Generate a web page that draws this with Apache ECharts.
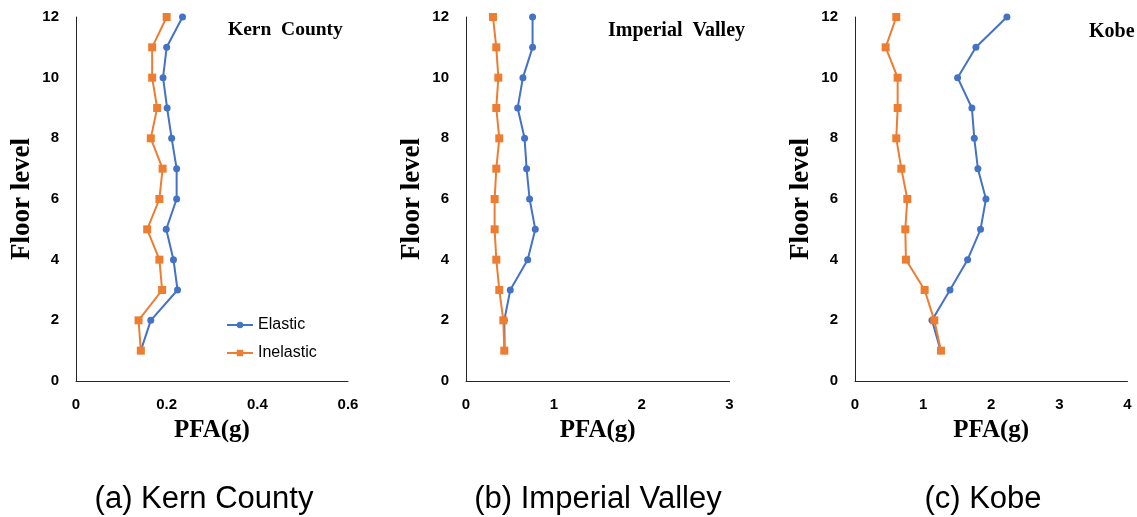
<!DOCTYPE html>
<html>
<head>
<meta charset="utf-8">
<script src="https://cdn.jsdelivr.net/npm/echarts@6/dist/echarts.min.js"></script>
<style>
  html, body { margin: 0; padding: 0; background: #fff; }
  #chart { width: 1137px; height: 517px; }
</style>
</head>
<body>
<div id="chart"></div>
<script>
// floor levels (same for all three records)
const floors = [1, 2, 3, 4, 5, 6, 7, 8, 9, 10, 11, 12];

// PFA(g) per floor
const kernElastic = [0.143, 0.165, 0.224, 0.215, 0.199, 0.222, 0.222, 0.211, 0.201, 0.192, 0.200, 0.235];
const kernInelastic = [0.143, 0.138, 0.190, 0.184, 0.157, 0.184, 0.191, 0.165, 0.179, 0.168, 0.168, 0.200];

const imperialElastic = [0.44, 0.436, 0.504, 0.702, 0.789, 0.724, 0.690, 0.667, 0.588, 0.648, 0.758, 0.758];
const imperialInelastic = [0.436, 0.425, 0.379, 0.345, 0.326, 0.326, 0.345, 0.379, 0.345, 0.368, 0.345, 0.307];

const kobeElastic = [1.257, 1.130, 1.394, 1.653, 1.843, 1.922, 1.804, 1.751, 1.716, 1.506, 1.775, 2.23];
const kobeInelastic = [1.262, 1.164, 1.022, 0.748, 0.738, 0.768, 0.680, 0.606, 0.626, 0.626, 0.450, 0.606];

const recordNames = ["Kern  County", "Imperial  Valley", "Kobe"];
const captions = ["(a) Kern County", "(b) Imperial Valley", "(c) Kobe"];
const xMax = [0.6, 3, 4];
const xStep = [0.2, 1, 1];

const blue = "#4472C4";
const orange = "#ED7D31";
const axisColor = "#262626";
const serif = "'Liberation Serif', 'Times New Roman', serif";
const sans = "'Liberation Sans', Arial, sans-serif";

const grids = [
  { left: 76, top: 17, width: 272, height: 364 },
  { left: 466, top: 17, width: 263.5, height: 364 },
  { left: 855, top: 17, width: 272.5, height: 364 },
];

const pair = (vals) => vals.map((v, i) => [v, floors[i]]);

function xAxisFor(i) {
  return {
    gridIndex: i,
    type: "value",
    min: 0,
    max: xMax[i],
    interval: xStep[i],
    name: "PFA(g)",
    nameLocation: "middle",
    nameGap: 37,
    nameTextStyle: { fontFamily: serif, fontWeight: "bold", fontSize: 25, color: "#000" },
    axisLine: { show: true, onZero: false, lineStyle: { color: axisColor, width: 1 } },
    axisTick: { show: false },
    splitLine: { show: false },
    axisLabel: { margin: 16, fontFamily: sans, fontWeight: "bold", fontSize: 15, color: "#000" },
  };
}

function yAxisFor(i) {
  return {
    gridIndex: i,
    type: "value",
    min: 0,
    max: 12,
    interval: 2,
    name: "Floor level",
    nameLocation: "middle",
    nameRotate: 90,
    nameGap: 40,
    nameTextStyle: { fontFamily: serif, fontWeight: "bold", fontSize: 27, color: "#000" },
    axisLine: { show: true, onZero: false, lineStyle: { color: axisColor, width: 1 } },
    axisTick: { show: false },
    splitLine: { show: false },
    axisLabel: { margin: 17, fontFamily: sans, fontWeight: "bold", fontSize: 15, color: "#000" },
  };
}

function seriesFor(i, elastic, inelastic) {
  return [
    {
      name: "Elastic",
      type: "line",
      xAxisIndex: i,
      yAxisIndex: i,
      data: pair(elastic),
      symbol: "circle",
      symbolSize: 7,
      lineStyle: { color: blue, width: 2 },
      itemStyle: { color: blue },
    },
    {
      name: "Inelastic",
      type: "line",
      xAxisIndex: i,
      yAxisIndex: i,
      data: pair(inelastic),
      symbol: "rect",
      symbolSize: 8,
      lineStyle: { color: orange, width: 2 },
      itemStyle: { color: orange },
    },
  ];
}

const chart = echarts.init(document.getElementById("chart"));

const captionStyle = (t) => ({ text: t, font: "31px " + sans, fill: "#000", align: "center", verticalAlign: "middle" });

chart.setOption({
  animation: false,
  backgroundColor: "#fff",
  grid: grids,
  xAxis: [0, 1, 2].map(xAxisFor),
  yAxis: [0, 1, 2].map(yAxisFor),
  legend: {
    data: ["Elastic", "Inelastic"],
    orient: "vertical",
    left: 221,
    top: 312,
    itemWidth: 26,
    itemHeight: 8,
    itemGap: 12,
    textStyle: { fontFamily: sans, fontSize: 16, color: "#000" },
  },
  graphic: [
    // record names inside each panel
    { type: "text", left: 228, top: 20, style: { text: recordNames[0], font: "bold 19.5px " + serif, fill: "#000" } },
    { type: "text", left: 608, top: 21, style: { text: recordNames[1], font: "bold 20px " + serif, fill: "#000" } },
    { type: "text", left: 1089, top: 22, style: { text: recordNames[2], font: "bold 20px " + serif, fill: "#000" } },
    // captions below each panel
    { type: "text", x: 204, y: 499, style: captionStyle(captions[0]) },
    { type: "text", x: 598, y: 499, style: captionStyle(captions[1]) },
    { type: "text", x: 983, y: 499, style: captionStyle(captions[2]) },
  ],
  series: [
    ...seriesFor(0, kernElastic, kernInelastic),
    ...seriesFor(1, imperialElastic, imperialInelastic),
    ...seriesFor(2, kobeElastic, kobeInelastic),
  ],
});
</script>
</body>
</html>
